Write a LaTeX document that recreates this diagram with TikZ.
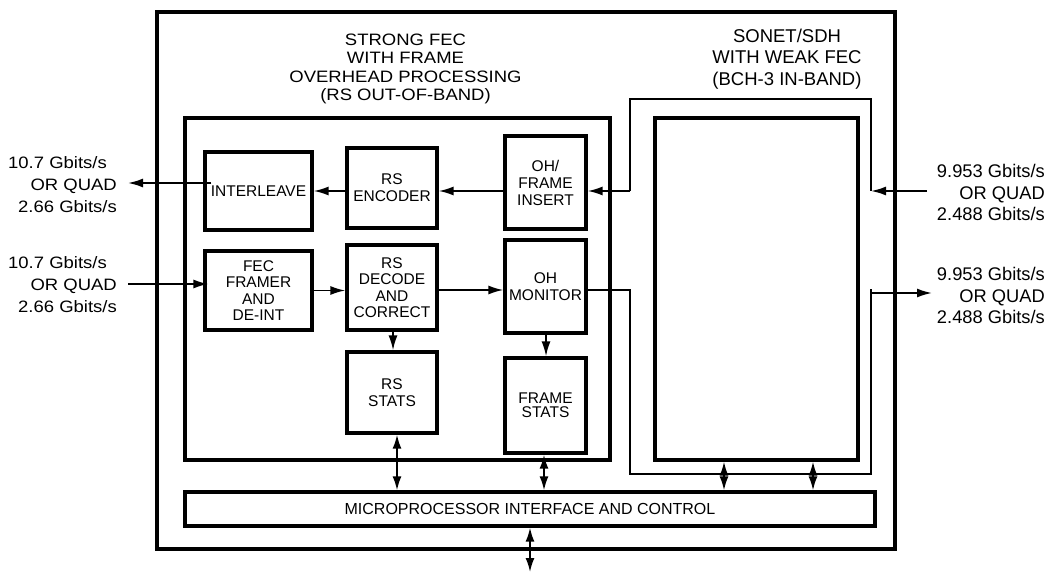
\documentclass[tikz,border=0pt]{standalone}
\usepackage{fontspec}
\setmainfont{Liberation Sans}
\newfontfamily\widefont{Liberation Sans}[FakeStretch=1.12]
\usetikzlibrary{arrows.meta}
\begin{document}
\begin{tikzpicture}[x=1pt,y=-1pt,
  frame/.style={draw, line width=3.3pt, inner sep=0pt},
  blk/.style={draw, line width=3.3pt, inner sep=0pt, align=center, font=\fontsize{15.5}{17}\selectfont},
  conn/.style={line width=1.8pt},
  arr/.style={conn, -{Latex[length=15pt,width=9pt]}},
  darr/.style={conn, {Latex[length=14pt,width=9pt]}-{Latex[length=14pt,width=9pt]}},
  lbl/.style={inner sep=0pt, align=right, anchor=east}
]
\useasboundingbox (0,0) rectangle (1054,572);
% frames
\node[frame, minimum width=738pt, minimum height=537pt] (outer) at (526,280.5) {};
\node[frame, minimum width=425pt, minimum height=342pt] (strong) at (397.5,289) {};
\node[frame, minimum width=203pt, minimum height=342pt] (sonet) at (756.5,289) {};
\node[frame, minimum width=690pt, minimum height=34pt, font=\fontsize{16}{18}\selectfont] (micro) at (530,509) {MICROPROCESSOR INTERFACE AND CONTROL};
% titles
\node[align=center, inner sep=0pt, font=\widefont\fontsize{16.5}{18.3}\selectfont] (t1) at (405.5,69) {STRONG FEC\\WITH FRAME\\OVERHEAD PROCESSING\\(RS OUT-OF-BAND)};
\node[align=center, inner sep=0pt, font=\fontsize{18.5}{21.5}\selectfont] (t2) at (787,59) {SONET/SDH\\WITH WEAK FEC\\(BCH-3 IN-BAND)};
% blocks
\node[blk, minimum width=107pt, minimum height=78pt] (IL) at (258.5,191) {INTERLEAVE};
\node[blk, minimum width=90pt, minimum height=80pt] (ENC) at (392,188) {RS\\ENCODER};
\node[blk, minimum width=81pt, minimum height=93pt] (OHFI) at (545.5,182.5) {OH/\\FRAME\\INSERT};
\node[blk, minimum width=107pt, minimum height=79pt, font=\fontsize{15.5}{16.5}\selectfont] (FEC) at (258.5,290.5) {FEC\\FRAMER\\AND\\DE-INT};
\node[blk, minimum width=90pt, minimum height=85pt, font=\fontsize{15.5}{16.5}\selectfont] (DEC) at (392,287.5) {RS\\DECODE\\AND\\CORRECT};
\node[blk, minimum width=81pt, minimum height=93pt] (OHM) at (545.5,286.5) {OH\\MONITOR};
\node[blk, minimum width=90pt, minimum height=81pt] (RSS) at (392,392.5) {RS\\STATS};
\node[blk, minimum width=81pt, minimum height=95pt, font=\fontsize{15.5}{14}\selectfont] (FS) at (545.5,405.5) {FRAME\\STATS};
% side labels
\node[lbl, font=\widefont\fontsize{16.5}{22}\selectfont] (inL1) at (117,185) {10.7 Gbits/s\hspace*{10pt}\\OR QUAD\\2.66 Gbits/s};
\node[lbl, font=\widefont\fontsize{16.5}{22}\selectfont] (inL2) at (117,285) {10.7 Gbits/s\hspace*{10pt}\\OR QUAD\\2.66 Gbits/s};
\node[lbl, font=\fontsize{18.3}{21.5}\selectfont] (rR1) at (1045,192.5) {9.953 Gbits/s\\OR QUAD\\2.488 Gbits/s};
\node[lbl, font=\fontsize{18.3}{21.5}\selectfont] (rR2) at (1045,295.5) {9.953 Gbits/s\\OR QUAD\\2.488 Gbits/s};
% coordinates
\coordinate (outL) at (128,183);
\coordinate (inL) at (128,284);
\coordinate (sTL) at (630,99);
\coordinate (sTR) at (871,99);
\coordinate (sBL) at (630,474);
\coordinate (sBR) at (871,474);
\coordinate (jL1) at (630,191);
\coordinate (jR1) at (871,191);
\coordinate (jL2) at (630,290);
\coordinate (jR2) at (871,293);
\coordinate (inR) at (927,191);
\coordinate (outR) at (932,293);
\coordinate (bot) at (530,572);
% connectors
\draw[arr] ([xshift=8pt]IL.west |- outL) -- (outL);
\draw[arr] (ENC.west |- 0,191) -- (IL.east |- 0,191);
\draw[arr] (OHFI.west |- 0,191) -- (ENC.east |- 0,191);
\draw[arr] (inL) -- ([xshift=5pt]FEC.west |- inL);
\draw[arr] (FEC.east |- 0,290.5) -- (DEC.west |- 0,290.5);
\draw[arr] (DEC.east |- 0,290) -- (OHM.west |- 0,290);
\draw[arr] (DEC.south -| 393,0) -- (RSS.north -| 393,0);
\draw[arr] (OHM.south -| 546,0) -- (FS.north -| 546,0);
\draw[darr] (RSS.south -| 397,0) -- (micro.north -| 397,0);
\draw[darr] (FS.south -| 544,0) -- (micro.north -| 544,0);
\draw[darr] (sonet.south -| 724,0) -- (micro.north -| 724,0);
\draw[darr] (sonet.south -| 813,0) -- (micro.north -| 813,0);
\draw[darr] (micro.south -| bot) -- (bot);
% SONET thin path
\draw[conn] (jR1) -- (sTR) -- (sTL) -- (jL1);
\draw[arr] (jL1) -- (OHFI.east |- jL1);
\draw[arr] (inR) -- (jR1);
\draw[conn] (OHM.east |- jL2) -- (jL2) -- (sBL) -- (sBR) -- ([yshift=4pt]jR2);
\draw[arr] (jR2) -- (outR);
\end{tikzpicture}
\end{document}
